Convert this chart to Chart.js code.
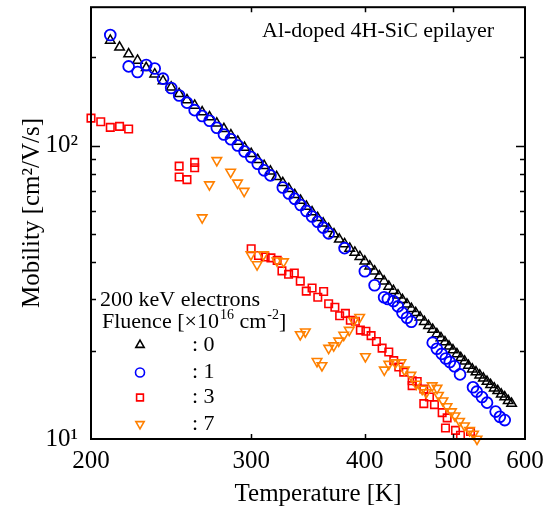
<!DOCTYPE html>
<html>
<head>
<meta charset="utf-8">
<script src="https://cdn.jsdelivr.net/npm/chart.js"></script>
<style>
  body { margin: 0; background: #fff; }
  canvas { display: block; }
</style>
</head>
<body>
<canvas id="myChart" width="551" height="514"></canvas>
<script>
// mobility vs temperature (log-log)
var xTicks = [200, 300, 400, 500, 600];
var yTicks = [10, 100];
var yTickLabels = ["10\u00b9", "10\u00b2"];

// fluence 0 (unirradiated)
var tempF0 = [210, 215, 220, 225, 230, 235, 240, 245, 250, 255, 260, 265, 270, 275, 280, 285, 290, 295,
  300, 305, 310, 315, 320, 325, 330, 335, 340, 345, 350, 355, 360, 365, 370, 375, 380, 385, 390, 395,
  400, 405, 410, 415, 420, 425, 430, 435, 440, 445, 450, 455, 460, 465, 470, 475, 480, 485, 490, 495,
  500, 505, 510, 515, 520, 525, 530, 535, 540, 545, 550, 555, 560, 565, 570, 575, 580];
var mobF0 = [228, 216, 205, 195, 184, 175, 166, 158, 150, 143, 137, 130, 125, 119, 114, 108.5, 103.3, 98.4,
  93.8, 89.5, 85.4, 81.7, 78.2, 74.6, 71.2, 67.9, 64.9, 62.0, 59.3, 56.7, 54.3, 52.0, 49.9, 47.9, 46.2, 44.6, 43.2, 41.8,
  40.3, 38.8, 37.3, 35.9, 34.5, 33.1, 32.0, 30.9, 29.8, 28.8, 27.8, 26.9, 26.0, 25.1, 24.3, 23.6, 22.8, 22.1, 21.4, 20.7,
  20.1, 19.5, 18.9, 18.4, 17.8, 17.3, 16.9, 16.5, 16.1, 15.7, 15.3, 14.9, 14.6, 14.2, 13.9, 13.5, 13.2];

// fluence 1
var tempF1 = [210, 220, 225, 230, 235, 240, 245, 250, 255, 260, 265, 270, 275, 280, 285, 290, 295, 300, 305, 310,
  315, 325, 330, 335, 340, 345, 350, 355, 360, 365, 380, 400, 410, 420, 424, 430, 435, 440, 445, 450,
  475, 480, 486, 491, 496, 502, 509, 526, 531, 538, 545, 557, 563, 570];
var mobF1 = [238, 186, 178, 188, 183, 169, 157, 148, 140, 132, 126, 121.5, 115, 109, 105, 100, 95.4, 91.3, 86.7, 82.3,
  79.1, 71.9, 68.6, 65.8, 62.7, 59.8, 57.3, 55.0, 52.5, 50.2, 44.7, 37.3, 33.4, 30.4, 30.0, 29.5, 28.3, 26.9, 25.9, 25.1,
  21.3, 20.3, 19.5, 18.8, 18.3, 17.7, 16.6, 15.0, 14.5, 13.9, 13.3, 12.4, 11.9, 11.6];

// fluence 3
var tempF3 = [200, 205, 210, 215, 220, 250, 250, 255, 260, 260,
  300, 305.6, 310.8, 315.4, 320.4, 324.3, 329.8, 334.6, 339.7, 344.9, 350, 355.1, 360.4, 365, 370.8, 375.3,
  380.8, 385.6, 390.6, 395.5, 401.1, 406.4, 411.9, 417.9, 425, 430.4, 435.9, 441.4, 450.9, 450.9, 456.7,
  464.4, 464.4, 471.1, 477.1, 486.5, 492.7, 490.6, 503.2, 509.6, 522.7];
var mobF3 = [124, 120.5, 115.3, 116.2, 113.8, 85.1, 78.1, 76.5, 87.6, 84.0,
  44.5, 42.2, 41.7, 41.4, 40.6, 37.4, 36.4, 36.8, 34.5, 31.9, 32.7, 30.4, 31.8, 28.9, 28.1, 26.3,
  26.8, 25.4, 25.2, 23.5, 23.3, 22.5, 21.5, 20.4, 19.8, 18.5, 17.6, 16.9, 15.8, 15.2, 15.7,
  14.8, 13.2, 13.9, 13.1, 12.3, 11.8, 10.9, 10.7, 10.3, 10.6];

// fluence 7
var tempF7 = [265, 269.9, 275, 284.8, 289.8, 294.7,
  299.8, 304.5, 309.5, 320.2, 325.6, 339.7, 344.1, 354.4, 358.9, 365, 369.7, 374.4, 379.2, 384.5, 388.9, 394.8,
  400.6, 420.2, 425, 432.2, 438.3, 442.2, 449.5, 455.6, 462.5, 467.3, 474.4, 480.2, 482, 487.5, 492.5, 498.1,
  502.6, 508.4, 514.8, 521.4, 526.7, 531.4];
var mobF7 = [56.8, 73.6, 89.0, 81.2, 74.6, 69.9,
  42.5, 39.3, 42.5, 40.5, 40.2, 22.7, 23.2, 18.4, 17.8, 20.4, 20.8, 21.6, 22.6, 23.5, 25.3, 26.0,
  19.1, 17.2, 18.0, 18.2, 18.2, 17.2, 16.5, 15.4, 14.8, 14.4, 15.2, 14.9, 14.1, 13.5, 12.9, 12.4,
  12.0, 11.5, 11.1, 10.7, 10.4, 10.0];

var fontFam = "'Liberation Serif', 'Times New Roman', serif";

function pts(xs, ys) {
  return xs.map(function(x, i) { return {x: x, y: ys[i]}; });
}

// legend marker drawing (same look as the chart points, smaller)
function marker(ctx, style, x, y, r, rot) {
  ctx.beginPath();
  if (style === "circle") {
    ctx.arc(x, y, r, 0, Math.PI * 2);
  } else if (style === "rect") {
    var s = r * Math.SQRT1_2;
    ctx.rect(x - s, y - s, 2 * s, 2 * s);
  } else {
    var a = rot ? Math.PI : 0;
    for (var k = 0; k < 3; k++) {
      var px = x + Math.sin(a) * r, py = y - Math.cos(a) * r;
      if (k === 0) ctx.moveTo(px, py); else ctx.lineTo(px, py);
      a += Math.PI * 2 / 3;
    }
    ctx.closePath();
  }
  ctx.stroke();
}

// frame, inward ticks, axis titles, labels
var decorations = {
  id: "decorations",
  afterDatasetsDraw: function(chart) {
    var ctx = chart.ctx, a = chart.chartArea;
    var xs = chart.scales.x, ys = chart.scales.y;
    ctx.save();
    ctx.strokeStyle = "#000";
    ctx.lineWidth = 1.5;
    // x ticks on bottom and top
    [300, 400, 500].forEach(function(v) {
      var px = Math.round(xs.getPixelForValue(v)) + 0.5;
      ctx.beginPath();
      ctx.moveTo(px, a.bottom); ctx.lineTo(px, a.bottom - 5);
      ctx.moveTo(px, a.top); ctx.lineTo(px, a.top + 5);
      ctx.stroke();
    });
    // y ticks on left and right
    var minor = [20, 30, 40, 50, 60, 70, 80, 90, 200];
    minor.concat([100]).forEach(function(v) {
      var py = Math.round(ys.getPixelForValue(v)) + 0.5;
      var len = v === 100 ? 9 : 5;
      ctx.beginPath();
      ctx.moveTo(a.left, py); ctx.lineTo(a.left + len, py);
      ctx.moveTo(a.right, py); ctx.lineTo(a.right - len, py);
      ctx.stroke();
    });
    ctx.lineWidth = 2;
    ctx.strokeRect(a.left, a.top, a.right - a.left, a.bottom - a.top);

    ctx.fillStyle = "#000";
    ctx.textBaseline = "middle";

    // axis titles
    ctx.font = "25px " + fontFam;
    ctx.textAlign = "center";
    ctx.fillText("Temperature [K]", 318, 494);
    ctx.save();
    ctx.translate(32, 213);
    ctx.rotate(-Math.PI / 2);
    ctx.fillText("Mobility [cm\u00b2/V/s]", 0, 0);
    ctx.restore();

    // sample label
    ctx.textAlign = "left";
    ctx.font = "22px " + fontFam;
    ctx.fillText("Al-doped 4H-SiC epilayer", 262, 31);

    // legend
    ctx.fillText("200 keV electrons", 100, 300);
    var lx = 102, ly = 322;
    ctx.fillText("Fluence [\u00d710", lx, ly);
    lx += ctx.measureText("Fluence [\u00d710").width;
    ctx.font = "14px " + fontFam;
    ctx.fillText("16", lx + 1, ly - 7);
    lx += ctx.measureText("16").width + 1;
    ctx.font = "22px " + fontFam;
    ctx.fillText(" cm", lx, ly);
    lx += ctx.measureText(" cm").width;
    ctx.font = "14px " + fontFam;
    ctx.fillText("-2", lx + 1, ly - 7);
    lx += ctx.measureText("-2").width + 1;
    ctx.font = "22px " + fontFam;
    ctx.fillText("]", lx, ly);

    chart.data.datasets.forEach(function(ds, i) {
      var y = [345, 372.5, 397.5, 424][i];
      ctx.strokeStyle = ds.borderColor;
      ctx.lineWidth = 1.6;
      marker(ctx, ds.pointStyle, 140, y, ds.pointStyle === "circle" ? 4.5 : 4.8, ds.rotation === 180);
      ctx.fillStyle = "#000";
      ctx.fillText(ds.label, 192, y);
    });
    ctx.restore();
  }
};

var ctx = document.getElementById("myChart").getContext("2d");
var myChart = new Chart(ctx, {
  type: "scatter",
  data: {
    datasets: [
      { label: ": 0", data: pts(tempF0, mobF0), pointStyle: "triangle", pointRadius: 5.5,
        borderColor: "#000000", backgroundColor: "rgba(0,0,0,0)", borderWidth: 1.5, order: 4, clip: false },
      { label: ": 1", data: pts(tempF1, mobF1), pointStyle: "circle", pointRadius: 5.4,
        borderColor: "#0000ff", backgroundColor: "rgba(0,0,0,0)", borderWidth: 1.8, order: 1, clip: false },
      { label: ": 3", data: pts(tempF3, mobF3), pointStyle: "rect", pointRadius: 5.3,
        borderColor: "#ff0000", backgroundColor: "rgba(0,0,0,0)", borderWidth: 1.6, order: 3, clip: false },
      { label: ": 7", data: pts(tempF7, mobF7), pointStyle: "triangle", rotation: 180, pointRadius: 5.5,
        borderColor: "#ff8000", backgroundColor: "rgba(0,0,0,0)", borderWidth: 1.6, order: 2, clip: false }
    ]
  },
  options: {
    responsive: false,
    animation: false,
    layout: { padding: { top: 4, right: 26, left: 0, bottom: 0 } },
    plugins: { legend: { display: false }, tooltip: { enabled: false } },
    scales: {
      x: {
        type: "logarithmic",
        min: 200,
        max: 600,
        afterFit: function(s) { s.height = 75; s.paddingLeft = 0; s.paddingRight = 0; },
        afterBuildTicks: function(s) { s.ticks = xTicks.map(function(v) { return {value: v}; }); },
        grid: { display: false, drawTicks: false },
        border: { display: false },
        ticks: {
          color: "#000",
          font: { family: fontFam, size: 25 },
          padding: 7,
          maxRotation: 0,
          autoSkip: false,
          callback: function(v) { return String(v); }
        }
      },
      y: {
        type: "logarithmic",
        min: 10,
        max: 296,
        afterFit: function(s) { s.width = 91; s.paddingTop = 0; s.paddingBottom = 0; },
        afterBuildTicks: function(s) { s.ticks = yTicks.map(function(v) { return {value: v}; }); },
        grid: { display: false, drawTicks: false },
        border: { display: false },
        ticks: {
          color: "#000",
          font: { family: fontFam, size: 25 },
          padding: 13,
          autoSkip: false,
          callback: function(v) { var i = yTicks.indexOf(v); return i >= 0 ? yTickLabels[i] : ""; }
        }
      }
    }
  },
  plugins: [decorations]
});
</script>
</body>
</html>
